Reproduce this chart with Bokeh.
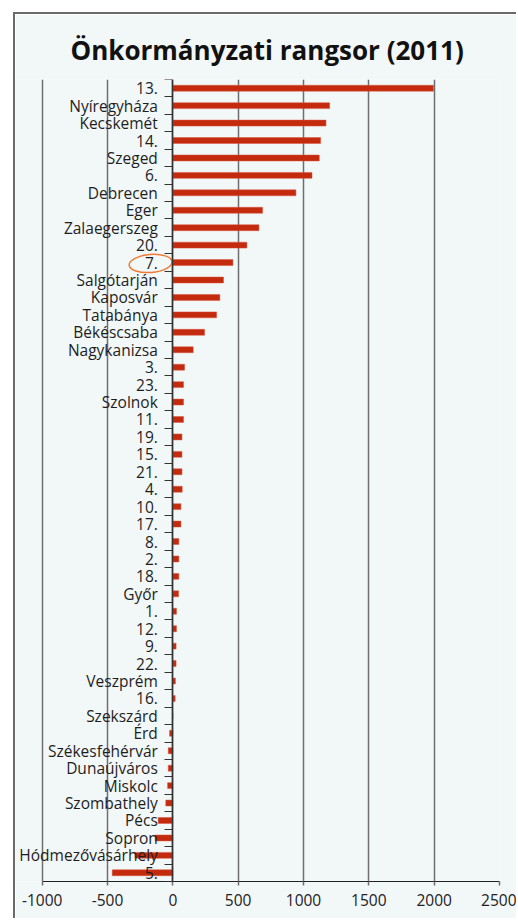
from bokeh.plotting import figure
from bokeh.models import Range1d, LinearAxis, FixedTicker, ColumnDataSource, LabelSet
from bokeh.core.properties import value
from bokeh.embed import file_html
from bokeh.resources import INLINE

title = "Önkormányzati rangsor (2011)"
categories = ["13.", "Nyíregyháza", "Kecskemét", "14.", "Szeged", "6.", "Debrecen", "Eger",
              "Zalaegerszeg", "20.", "7.", "Salgótarján", "Kaposvár", "Tatabánya", "Békéscsaba",
              "Nagykanizsa", "3.", "23.", "Szolnok", "11.", "19.", "15.", "21.", "4.", "10.", "17.",
              "8.", "2.", "18.", "Győr", "1.", "12.", "9.", "22.", "Veszprém", "16.", "Szekszárd",
              "Érd", "Székesfehérvár", "Dunaújváros", "Miskolc", "Szombathely", "Pécs", "Sopron",
              "Hódmezővásárhely", "5."]
values = [1995, 1200, 1172, 1131, 1121, 1065, 942, 687, 659, 567,
          460, 388, 360, 335, 243, 156, 90, 82, 82, 82,
          70, 70, 70, 72, 62, 62, 46, 46, 46, 44,
          28, 28, 25, 25, 20, 18, 0, -25, -35, -35,
          -40, -54, -112, -135, -290, -464]
x_ticks = [-1000, -500, 0, 500, 1000, 1500, 2000, 2500]
x_tick_labels = ["-1000", "-500", "0", "500", "1000", "1500", "2000", "2500"]
highlight = "7."
highlight_x = -170

n = len(categories)
pos = [i + 0.5 for i in range(n)]
src = ColumnDataSource(dict(cat=categories, val=values, y=pos, zero=[0] * n))

FONT = "Open Sans"
BG = "#f2f7f8"
GRID = "#6e6e6e"

# left side of the range is widened so that long category names are not clipped
p = figure(width=503, height=906, x_range=Range1d(-1204, x_ticks[-1]),
           y_range=Range1d(n, 0), y_axis_type=None,
           output_backend="svg", toolbar_location=None,
           min_border_left=0, min_border_right=19, min_border_top=65, min_border_bottom=39,
           background_fill_color=BG, border_fill_color=BG, outline_line_color=None)
p.margin = (12, 0, 0, 13)
p.styles = {"border-left": "2px solid #6a6a6a", "border-top": "2px solid #6a6a6a"}

p.title.text = title
p.title.align = "left"
p.title.offset = 55
p.title.text_font = "Open Sans"
p.title.text_font_style = "bold"
p.title.text_font_size = "26px"
p.title.text_color = "#111111"
p.title.standoff = 23

xa = p.xaxis[0]
xa.ticker = FixedTicker(ticks=x_ticks)
xa.bounds = (x_ticks[0], x_ticks[-1])
xa.major_label_overrides = {t: l for t, l in zip(x_ticks, x_tick_labels)}
xa.major_label_text_font = FONT
xa.major_label_text_font_size = "15.5px"
xa.major_label_text_color = "#222222"
xa.axis_line_color = "#222222"
xa.axis_line_width = 1
xa.major_tick_in = 0
xa.major_tick_out = 4
xa.major_tick_line_color = GRID
xa.major_tick_line_width = 1.5
xa.minor_tick_line_color = None
xa.major_label_standoff = 8

p.xgrid.grid_line_color = GRID
p.xgrid.grid_line_width = 1.5
p.ygrid.grid_line_color = None

p.hbar(y="y", left=0, right="val", height=0.34, source=src,
       fill_color="#c42a0e", line_color="#d9573f", line_width=0.5)

ya = LinearAxis(fixed_location=0, ticker=FixedTicker(ticks=list(range(n + 1))),
                major_tick_in=0, major_tick_out=8,
                major_label_overrides={i: "" for i in range(n + 1)},
                axis_line_color="#333333", axis_line_width=1.5,
                major_tick_line_color="#333333", major_tick_line_width=1,
                minor_tick_line_color=None)
p.add_layout(ya, "left")

labels = LabelSet(x="zero", y="y", text="cat", source=src, text_align="right",
                  text_baseline="middle", x_offset=-15, text_font=value(FONT),
                  text_font_size=value("15.5px"), text_color=value("#1e1e1e"))
p.add_layout(labels)

hy = pos[categories.index(highlight)]
p.ellipse(x=[highlight_x], y=[hy + 0.05], width=43, height=18, width_units="screen",
          height_units="screen", angle=0.08, fill_color=None, line_color="#f07a35", line_width=1.5)

open("out.html", "w").write(file_html(p, INLINE))
